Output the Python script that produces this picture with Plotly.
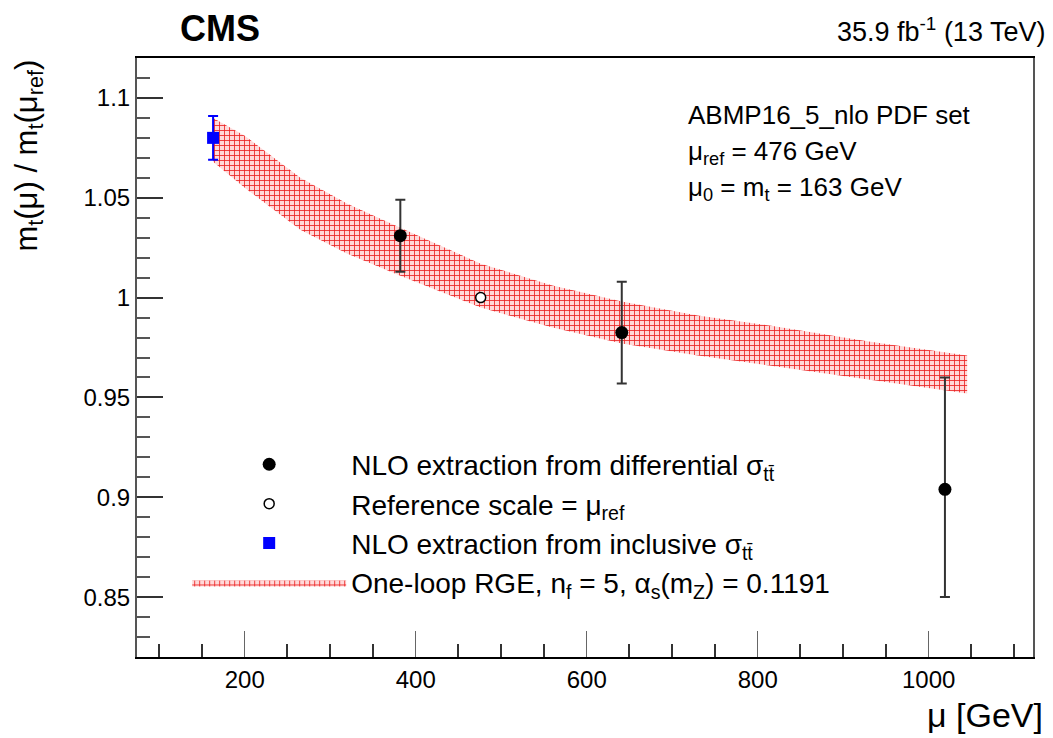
import plotly.graph_objects as go

# ---- data ----
diff_mu = [382, 641, 1019]
diff_val = [1.031, 0.9825, 0.904]
diff_err_up = [0.018, 0.0255, 0.056]
diff_err_dn = [0.018, 0.0255, 0.054]

ref_mu = [476]
ref_val = [1.0]

incl_mu = [163]
incl_val = [1.080]
incl_err = [0.011]

band_mu = [163, 200, 265, 320, 382, 476, 560, 641, 730, 814, 930, 1045]
band_up = [1.090, 1.081, 1.060, 1.047, 1.035, 1.017, 1.006, 0.998, 0.991, 0.986, 0.978, 0.971]
band_dn = [1.068, 1.055, 1.034, 1.022, 1.011, 0.995, 0.985, 0.977, 0.971, 0.966, 0.959, 0.952]

x_range = [74, 1122]
y_range = [0.82, 1.12]

FONT = "Liberation Sans, Arial, Helvetica, sans-serif"

fig = go.Figure()

# RGE band
fig.add_trace(go.Scatter(
    x=band_mu + band_mu[::-1],
    y=band_up + band_dn[::-1],
    fill="toself",
    mode="lines",
    line=dict(width=0, color="rgba(230,0,0,0.0)"),
    fillcolor="rgba(255,120,120,0.35)",
    fillpattern=dict(shape="+", fgcolor="rgba(230,0,0,0.85)", bgcolor="rgba(255,185,185,0.55)",
                     size=5, solidity=0.3, fillmode="replace"),
    name="One-loop RGE, n<sub>f</sub> = 5, α<sub>s</sub>(m<sub>Z</sub>) = 0.1191",
    legendrank=4,
    hoverinfo="skip",
))

# differential extraction
fig.add_trace(go.Scatter(
    x=diff_mu, y=diff_val, mode="markers",
    marker=dict(color="black", size=13, symbol="circle"),
    error_y=dict(type="data", symmetric=False, array=diff_err_up, arrayminus=diff_err_dn,
                 color="#333333", thickness=2, width=5),
    name="NLO extraction from differential σ<sub>tt̄</sub>",
    legendrank=1,
))

# reference scale
fig.add_trace(go.Scatter(
    x=ref_mu, y=ref_val, mode="markers",
    marker=dict(color="white", size=10, symbol="circle", line=dict(color="black", width=1.5)),
    name="Reference scale = μ<sub>ref</sub>",
    legendrank=2,
))

# inclusive extraction
fig.add_trace(go.Scatter(
    x=incl_mu, y=incl_val, mode="markers",
    marker=dict(color="blue", size=12, symbol="square"),
    error_y=dict(type="data", array=incl_err, color="blue", thickness=2, width=5),
    name="NLO extraction from inclusive σ<sub>tt̄</sub>",
    legendrank=3,
))

fig.update_layout(
    width=1045, height=730,
    margin=dict(l=129, r=20, t=50, b=81),
    paper_bgcolor="white", plot_bgcolor="white",
    font=dict(family=FONT, color="black", size=24),
    showlegend=True,
    legend=dict(x=0.056, y=0.363, xanchor="left", yanchor="top",
                bgcolor="rgba(0,0,0,0)", font=dict(size=28, family=FONT),
                itemwidth=154, traceorder="normal"),
    xaxis=dict(range=x_range, showgrid=False, zeroline=False,
               showline=True, linecolor="black", linewidth=2, mirror=True,
               ticks="inside", ticklen=26, tickwidth=1, tickcolor="#666",
               dtick=200, tick0=0, tickfont=dict(size=24, family=FONT),
               minor=dict(ticks="inside", dtick=50, ticklen=13, tickcolor="#333", tickwidth=2)),
    yaxis=dict(range=y_range, showgrid=False, zeroline=False,
               showline=True, linecolor="#555", linewidth=2, mirror=True,
               ticks="inside", ticklen=26, tickwidth=2, tickcolor="#333",
               dtick=0.05, tick0=0, tickfont=dict(size=24, family=FONT),
               minor=dict(ticks="inside", dtick=0.01, ticklen=13, tickcolor="#555", tickwidth=2)),
)

ann = []
ann.append(dict(text="<b>CMS</b>", xref="paper", yref="paper", x=0.046, y=1.05,
                xanchor="left", yanchor="middle", showarrow=False,
                font=dict(size=36, family=FONT)))
ann.append(dict(text="35.9 fb<sup>-1</sup> (13 TeV)", xref="paper", yref="paper", x=1.0, y=1.047,
                xanchor="right", yanchor="middle", xshift=14, showarrow=False,
                font=dict(size=27, family=FONT)))
ann.append(dict(text="ABMP16_5_nlo PDF set", xref="paper", yref="paper", x=0.613, y=0.905,
                xanchor="left", yanchor="middle", showarrow=False, font=dict(size=26, family=FONT)))
ann.append(dict(text="μ<sub>ref</sub> = 476 GeV", xref="paper", yref="paper", x=0.613, y=0.842,
                xanchor="left", yanchor="middle", showarrow=False, font=dict(size=26, family=FONT)))
ann.append(dict(text="μ<sub>0</sub> = m<sub>t</sub> = 163 GeV", xref="paper", yref="paper", x=0.613, y=0.782,
                xanchor="left", yanchor="middle", showarrow=False, font=dict(size=26, family=FONT)))
ann.append(dict(text="μ [GeV]", xref="paper", yref="paper", x=1.0, y=-0.097,
                xanchor="right", yanchor="middle", xshift=12, showarrow=False,
                font=dict(size=34, family=FONT)))
ann.append(dict(text="m<sub>t</sub>(μ) / m<sub>t</sub>(μ<sub>ref</sub>)", xref="paper", yref="paper",
                x=-0.121, y=1.0, xanchor="center", yanchor="top", textangle=-90, showarrow=False,
                font=dict(size=31, family=FONT)))
fig.update_layout(annotations=ann)

fig.write_html("out.html")
